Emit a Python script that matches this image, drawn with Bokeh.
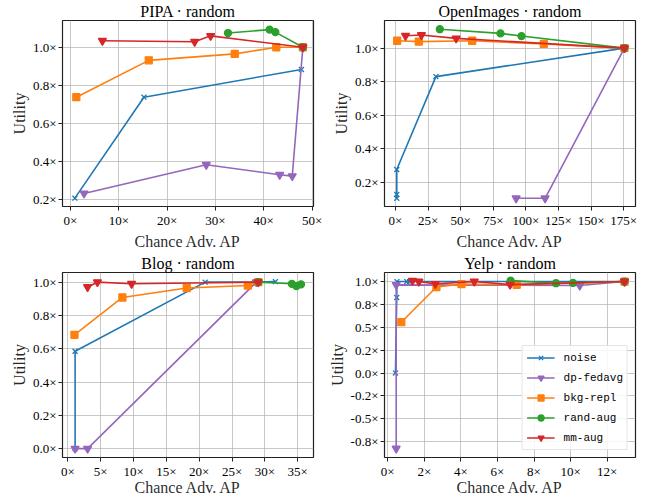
from bokeh.plotting import figure
from bokeh.layouts import gridplot
from bokeh.models import FixedTicker, Legend, LegendItem, Range1d
from bokeh.embed import file_html
from bokeh.resources import INLINE

SERIES = ["noise", "dp-fedavg", "bkg-repl", "rand-aug", "mm-aug"]

# ---- PIPA ----
pipa_noise_x = [0.9, 15.2, 47.8]
pipa_noise_y = [0.205, 0.737, 0.883]
pipa_dp_x = [2.8, 28.1, 43.3, 45.9, 48.1]
pipa_dp_y = [0.23, 0.381, 0.328, 0.321, 1.0]
pipa_bkg_x = [1.2, 16.2, 34.0, 42.6, 48.1]
pipa_bkg_y = [0.737, 0.931, 0.965, 1.0, 1.0]
pipa_rand_x = [32.6, 41.2, 42.4, 48.1]
pipa_rand_y = [1.075, 1.093, 1.080, 1.0]
pipa_mm_x = [6.6, 25.7, 29.0, 48.1]
pipa_mm_y = [1.034, 1.029, 1.06, 1.0]

# ---- OpenImages ----
oi_noise_x = [1.0, 1.0, 1.0, 31.0, 175.5]
oi_noise_y = [0.103, 0.126, 0.275, 0.830, 1.0]
oi_dp_x = [92.5, 114.7, 175.5]
oi_dp_y = [0.103, 0.103, 1.0]
oi_bkg_x = [1.3, 17.9, 58.8, 113.7, 175.5]
oi_bkg_y = [1.044, 1.039, 1.044, 1.025, 1.0]
oi_rand_x = [34.0, 80.5, 96.6, 175.5]
oi_rand_y = [1.113, 1.088, 1.072, 1.0]
oi_mm_x = [7.7, 19.9, 46.5, 175.5]
oi_mm_y = [1.074, 1.078, 1.058, 1.0]

# ---- Blog ----
blog_noise_x = [1.1, 1.1, 20.9, 29.0, 31.6]
blog_noise_y = [0.0, 0.585, 1.0, 1.0, 1.003]
blog_dp_x = [1.1, 3.0, 28.7]
blog_dp_y = [0.0, 0.0, 1.0]
blog_bkg_x = [1.0, 8.3, 18.1, 27.4, 29.0]
blog_bkg_y = [0.684, 0.908, 0.965, 0.98, 1.0]
blog_rand_x = [29.0, 34.1, 34.8, 35.5]
blog_rand_y = [1.0, 0.99, 0.977, 0.987]
blog_mm_x = [3.0, 4.5, 9.7, 29.0]
blog_mm_y = [0.971, 1.0, 0.99, 1.0]

# ---- Yelp ----
yelp_noise_x = [0.42, 0.49, 0.5, 1.04, 1.19, 12.95]
yelp_noise_y = [0.0, 0.826, 1.0, 1.0, 1.0, 1.0]
yelp_dp_x = [0.46, 0.46, 10.5, 12.95]
yelp_dp_y = [-0.823, 0.964, 0.957, 1.0]
yelp_bkg_x = [0.74, 2.66, 4.03, 7.05, 12.95]
yelp_bkg_y = [0.556, 0.94, 0.972, 0.964, 1.0]
yelp_rand_x = [6.72, 9.2, 10.13, 12.95]
yelp_rand_y = [1.01, 0.982, 0.985, 1.0]
yelp_mm_x = [1.35, 1.7, 2.6, 4.73, 6.69, 12.95]
yelp_mm_y = [1.01, 1.0, 0.975, 1.0, 0.966, 1.0]

# ---- ticks ----
pipa_xticks = [0, 10, 20, 30, 40, 50]
pipa_yticks = [0.2, 0.4, 0.6, 0.8, 1.0]
oi_xticks = [0, 25, 50, 75, 100, 125, 150, 175]
oi_yticks = [0.2, 0.4, 0.6, 0.8, 1.0]
blog_xticks = [0, 5, 10, 15, 20, 25, 30, 35]
blog_yticks = [0.0, 0.2, 0.4, 0.6, 0.8, 1.0]
yelp_xticks = [0, 2, 4, 6, 8, 10, 12]
yelp_yticks = [-0.75, -0.5, -0.25, 0.0, 0.25, 0.5, 0.75, 1.0]
yelp_ytick_labels = ["-0.8×", "-0.5×", "-0.2×", "0.0×", "0.2×", "0.5×", "0.8×", "1.0×"]

COLORS = ["#1f77b4", "#9467bd", "#ff7f0e", "#2ca02c", "#d62728"]
MARKERS = ["x", "inverted_triangle", "square", "circle", "inverted_triangle"]
MSIZE = [7, 8, 7, 7, 8]

SERIF = "Liberation Serif"
MONO = "Liberation Mono"
INK = "#000000"


def make_fig(name, data, xr, yr, xt, yt, width, height, ylabels=None,
             mleft=54, mright=17, legend=False, lab_standoff=2):
    p = figure(width=width, height=height, output_backend="svg",
               toolbar_location=None, x_range=Range1d(*xr), y_range=Range1d(*yr),
               min_border_left=mleft, min_border_right=mright,
               min_border_top=0, min_border_bottom=0)
    p.title.text = name + " · random"
    p.title.text_font = SERIF
    p.title.text_font_size = "16px"
    p.title.text_font_style = "normal"
    p.title.text_color = INK
    p.title.align = "center"
    p.title.standoff = 1
    p.title.offset = 0
    p.outline_line_color = "#222222"
    p.outline_line_width = 1.2
    for axes in (p.xaxis, p.yaxis):
        axes.axis_line_color = None
        axes.major_tick_line_color = "#222222"
        axes.major_tick_out = 4
        axes.major_tick_in = 0
        axes.minor_tick_line_color = None
        axes.major_label_text_font = SERIF
        axes.major_label_text_font_size = "13px"
        axes.major_label_text_color = INK
        axes.axis_label_text_font = SERIF
        axes.axis_label_text_font_size = "16px"
        axes.axis_label_text_font_style = "normal"
        axes.axis_label_text_color = "#111111"
        axes.axis_label_text_alpha = 0.92
        axes.major_label_standoff = 2
    p.yaxis.axis_label_standoff = 2
    p.xaxis.axis_label_standoff = lab_standoff
    p.xaxis.axis_label = "Chance Adv. AP"
    p.yaxis.axis_label = "Utility"
    p.xaxis.ticker = FixedTicker(ticks=xt)
    p.yaxis.ticker = FixedTicker(ticks=yt)
    p.xaxis.major_label_overrides = {t: f"{t}×" for t in xt}
    if ylabels is None:
        ylabels = [f"{t:.1f}×" for t in yt]
    p.yaxis.major_label_overrides = {t: l for t, l in zip(yt, ylabels)}
    p.grid.grid_line_color = "#b0b0b0"
    p.grid.grid_line_width = 1
    p.grid.grid_line_alpha = 0.7
    items = []
    for i, (xs, ys) in enumerate(data):
        r1 = p.line(xs, ys, line_color=COLORS[i], line_width=1.6)
        r2 = p.scatter(xs, ys, marker=MARKERS[i], size=MSIZE[i],
                       fill_color=COLORS[i], line_color=COLORS[i], line_width=1.3)
        items.append(LegendItem(label=SERIES[i], renderers=[r1, r2]))
    if legend:
        lg = Legend(items=items, location="bottom_right")
        lg.label_text_font = MONO
        lg.label_text_font_size = "11px"
        lg.label_text_color = INK
        lg.glyph_width = 28
        lg.glyph_height = 15
        lg.label_height = 15
        lg.label_standoff = 9
        lg.spacing = 5
        lg.padding = 4
        lg.margin = 7
        lg.border_line_color = "#cccccc"
        lg.background_fill_alpha = 0.85
        p.add_layout(lg, "center")
    return p


p1 = make_fig("PIPA",
              [(pipa_noise_x, pipa_noise_y), (pipa_dp_x, pipa_dp_y),
               (pipa_bkg_x, pipa_bkg_y), (pipa_rand_x, pipa_rand_y),
               (pipa_mm_x, pipa_mm_y)],
              (-1.66, 50.3), (0.161, 1.141), pipa_xticks, pipa_yticks, 323, 252,
              mleft=62, mright=10)
p2 = make_fig("OpenImages",
              [(oi_noise_x, oi_noise_y), (oi_dp_x, oi_dp_y),
               (oi_bkg_x, oi_bkg_y), (oi_rand_x, oi_rand_y),
               (oi_mm_x, oi_mm_y)],
              (-8.4, 184.0), (0.054, 1.165), oi_xticks, oi_yticks, 323, 252,
              mleft=61, mright=11)
p3 = make_fig("Blog",
              [(blog_noise_x, blog_noise_y), (blog_dp_x, blog_dp_y),
               (blog_bkg_x, blog_bkg_y), (blog_rand_x, blog_rand_y),
               (blog_mm_x, blog_mm_y)],
              (-0.82, 37.4), (-0.053, 1.058), blog_xticks, blog_yticks, 323, 246,
              mleft=62, mright=10, lab_standoff=-3)
p4 = make_fig("Yelp",
              [(yelp_noise_x, yelp_noise_y), (yelp_dp_x, yelp_dp_y),
               (yelp_bkg_x, yelp_bkg_y), (yelp_rand_x, yelp_rand_y),
               (yelp_mm_x, yelp_mm_y)],
              (-0.18, 13.55), (-0.922, 1.099), yelp_xticks, yelp_yticks, 323, 246,
              ylabels=yelp_ytick_labels, mleft=61, mright=11, legend=True,
              lab_standoff=-3)

g = gridplot([[p1, p2], [p3, p4]], toolbar_location=None)
open("out.html", "w").write(file_html(g, INLINE))
